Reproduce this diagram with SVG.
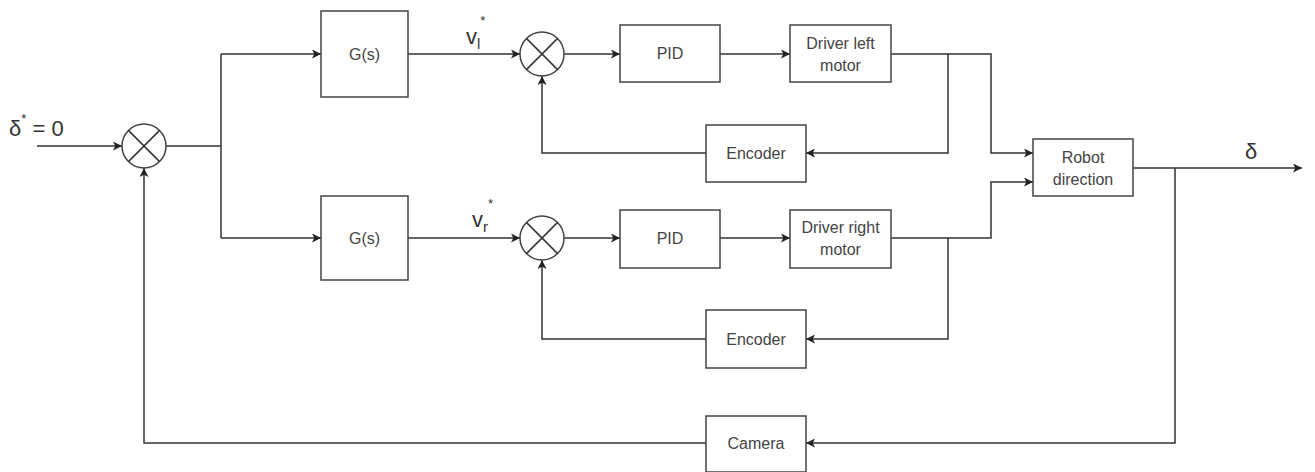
<svg xmlns="http://www.w3.org/2000/svg" width="1315" height="472" viewBox="0 0 1315 472">
<style>
.box{fill:#fff;stroke:#444;stroke-width:1.5}
.sum{fill:#fff;stroke:#444;stroke-width:1.5}
.ln{fill:none;stroke:#333;stroke-width:1.5}
.t{font-family:"Liberation Sans",Arial,sans-serif;font-size:16px;fill:#444;text-anchor:middle}
.big{font-family:"Liberation Sans",Arial,sans-serif;font-size:22px;fill:#333}
</style>
<defs>
<marker id="a" viewBox="0 0 10 10" refX="10" refY="5" markerWidth="9" markerHeight="9" markerUnits="userSpaceOnUse" orient="auto">
<path d="M0,0 L10,5 L0,10 L2.5,5 z" fill="#222"/>
</marker>
</defs>
<rect width="1315" height="472" fill="#fff"/>
<g id="connectors">
<path class="ln" d="M37,146 H122" marker-end="url(#a)"/>
<path class="ln" d="M166,146 H221"/>
<path class="ln" d="M221,54 V238"/>
<path class="ln" d="M221,54 H321" marker-end="url(#a)"/>
<path class="ln" d="M221,238 H321" marker-end="url(#a)"/>
<path class="ln" d="M408,54 H520" marker-end="url(#a)"/>
<path class="ln" d="M408,238 H520" marker-end="url(#a)"/>
<path class="ln" d="M564,54 H620" marker-end="url(#a)"/>
<path class="ln" d="M564,238 H620" marker-end="url(#a)"/>
<path class="ln" d="M720,54 H790" marker-end="url(#a)"/>
<path class="ln" d="M720,238 H790" marker-end="url(#a)"/>
<path class="ln" d="M891,54 H991 V153 H1033" marker-end="url(#a)"/>
<path class="ln" d="M948,54 V153 H806" marker-end="url(#a)"/>
<path class="ln" d="M706,153 H542 V76" marker-end="url(#a)"/>
<path class="ln" d="M891,238 H991 V182 H1033" marker-end="url(#a)"/>
<path class="ln" d="M948,238 V339 H806" marker-end="url(#a)"/>
<path class="ln" d="M706,339 H542 V260" marker-end="url(#a)"/>
<path class="ln" d="M1133,168 H1302" marker-end="url(#a)"/>
<path class="ln" d="M1175,168 V443 H806" marker-end="url(#a)"/>
<path class="ln" d="M706,443 H144 V168" marker-end="url(#a)"/>
</g>
<g id="input-label">
<text class="big" x="9" y="136">δ<tspan font-size="13" dy="-13">*</tspan><tspan dy="13"> = 0</tspan></text>
</g>
<g id="sum1">
<circle class="sum" cx="144" cy="146" r="22"/>
<path class="ln" d="M128.4,130.4 L159.6,161.6 M159.6,130.4 L128.4,161.6"/>
</g>
<g id="gs-top">
<rect class="box" x="321" y="11" width="87" height="86"/>
<text class="t" x="364.5" y="60">G(s)</text>
</g>
<g id="gs-bottom">
<rect class="box" x="321" y="196" width="87" height="84"/>
<text class="t" x="364.5" y="244">G(s)</text>
</g>
<g id="vl-label">
<text class="big" x="466" y="44" font-size="20">v<tspan font-size="15" dy="5">l</tspan><tspan font-size="13" dx="0" dy="-24">*</tspan></text>
</g>
<g id="vr-label">
<text class="big" x="472" y="227" font-size="20">v<tspan font-size="15" dy="5">r</tspan><tspan font-size="13" dx="0" dy="-24">*</tspan></text>
</g>
<g id="sum-top">
<circle class="sum" cx="542" cy="54" r="22"/>
<path class="ln" d="M526.4,38.4 L557.6,69.6 M557.6,38.4 L526.4,69.6"/>
</g>
<g id="sum-bottom">
<circle class="sum" cx="542" cy="238" r="22"/>
<path class="ln" d="M526.4,222.4 L557.6,253.6 M557.6,222.4 L526.4,253.6"/>
</g>
<g id="pid-top">
<rect class="box" x="620" y="25" width="100" height="57"/>
<text class="t" x="670" y="59">PID</text>
</g>
<g id="pid-bottom">
<rect class="box" x="620" y="210" width="100" height="58"/>
<text class="t" x="670" y="244">PID</text>
</g>
<g id="driver-left">
<rect class="box" x="790" y="25" width="101" height="57"/>
<text class="t" x="840.5" y="49">Driver left</text>
<text class="t" x="840.5" y="71">motor</text>
</g>
<g id="driver-right">
<rect class="box" x="790" y="210" width="101" height="58"/>
<text class="t" x="840.5" y="233">Driver right</text>
<text class="t" x="840.5" y="255">motor</text>
</g>
<g id="encoder-top">
<rect class="box" x="706" y="125" width="100" height="57"/>
<text class="t" x="756" y="159">Encoder</text>
</g>
<g id="encoder-bottom">
<rect class="box" x="706" y="310" width="100" height="58"/>
<text class="t" x="756" y="345">Encoder</text>
</g>
<g id="robot">
<rect class="box" x="1033" y="139" width="100" height="57"/>
<text class="t" x="1083" y="163">Robot</text>
<text class="t" x="1083" y="185">direction</text>
</g>
<g id="output-label">
<text class="big" x="1245" y="159">δ</text>
</g>
<g id="camera">
<rect class="box" x="706" y="416" width="100" height="56"/>
<text class="t" x="756" y="449">Camera</text>
</g>
</svg>
